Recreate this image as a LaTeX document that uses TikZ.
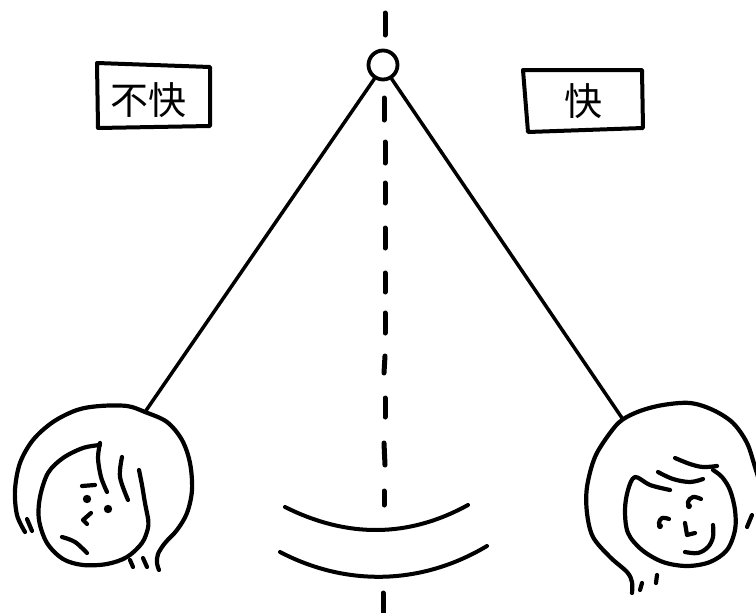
\documentclass[tikz,border=0pt]{standalone}
\usepackage{fontspec}
\newfontfamily\cjk{Noto Sans CJK JP}
\begin{document}
\begin{tikzpicture}[x=1pt,y=-1pt,line cap=round,line join=round,
  ink/.style={draw=black,line width=4pt},
  thin ink/.style={draw=black,line width=3.5pt},
  dashpart/.style={draw=black,line width=5pt},
  feature/.style={draw=black,line width=4.2pt},
  dotfeat/.style={fill=black},
  label text/.style={font=\cjk\fontsize{38}{38}\selectfont,inner sep=0pt},
  pivot/.style={circle,draw=black,line width=3.8pt,minimum size=29pt,inner sep=0pt,fill=white}]
\useasboundingbox (0,0) rectangle (756,613);
\fill[white] (0,0) rectangle (756,613);

% vertical dashed axis
\foreach \ya/\yb/\xa/\xb in {13/35/385/385, 98/120/384/384, 142/163/385/385, 183/203/385/385,
  228/248/385/385, 273/292/385/385, 313/333/385/385, 356/373/385/384, 398/417/385/385,
  443/465/384/385, 491/505/384/384, 593/613/383/383}
  \draw[dashpart] (\xa,\ya) -- (\xb,\yb);

% pivot and the two strings
\node[pivot] (pivot) at (383,65) {};
\coordinate (lhang) at (145,412);
\coordinate (rhang) at (622,418);
\draw[thin ink] (pivot.-122) -- (lhang);
\draw[thin ink] (pivot.-58) -- (rhang);

% labels
\draw[ink] (97,63) -- (210,67) -- (210,126) -- (98,128) -- cycle;
\node[label text] (unpleasant) at (148,100) {不快};
\draw[ink] (523,70) -- (642,70) -- (643,128) -- (528,132) -- cycle;
\node[label text] (pleasant) at (583,101) {快};

% swing arcs
\draw[ink] (285,507) .. controls (347,538) and (408,538) .. (468,505);
\draw[ink] (280,552) .. controls (345,586) and (420,586) .. (487,546);

% ---- left head (frowning) ----
\draw[feature] plot[smooth,tension=0.55] coordinates {(25,532) (17,515) (15,490) (20,463) (33,440)
  (53,422) (77,410) (100,406) (127,406) (145,412) (167,422) (182,440) (190,463) (192,490)
  (187,513) (177,530) (165,543) (158,554) (157,563) (159,570)};
\draw[feature] (27,519) -- (32,531);
\draw[feature] plot[smooth,tension=0.55] coordinates {(100,445) (83,448) (63,458) (48,473) (40,497)
  (39,520) (47,543) (63,559) (83,565) (107,564) (127,557) (142,543) (148,528) (148,518)};
\draw[feature] plot[smooth,tension=0.55] coordinates {(148,518) (145,503) (142,485) (139,470)};
\draw[feature] plot[smooth,tension=0.55] coordinates {(100,443) (98,458) (101,477) (107,492)};
\draw[feature] plot[smooth,tension=0.55] coordinates {(122,457) (120,477) (128,500)};
\draw[feature] (82,486) -- (95,485);
\fill[dotfeat] (87,499) circle (4.2pt);
\fill[dotfeat] (108,509) circle (4.2pt);
\draw[feature] (91,513) -- (83,520) -- (87,524);
\draw[feature] plot[smooth,tension=0.6] coordinates {(62,537) (75,542) (87,553)};
\draw[feature] (130,560) -- (133,567);
\draw[feature] (143,558) -- (147,567);

% ---- right head (smiling) ----
\draw[feature] plot[smooth,tension=0.55] coordinates {(632,593) (632,582) (627,572) (610,557)
  (593,537) (587,513) (587,487) (595,457) (610,433) (622,420) (640,411) (663,405) (690,403)
  (713,410) (733,423) (747,443) (755,467) (762,490)};
\draw[feature] (752,515) -- (747,527);
\draw[feature] plot[smooth,tension=0.55] coordinates {(670,490) (650,485) (635,477) (628,490)
  (625,510) (628,533) (642,550) (663,562) (687,566) (710,562) (727,550) (735,530) (735,510)
  (730,490) (722,477) (713,470)};
\draw[feature] plot[smooth,tension=0.6] coordinates {(658,472) (673,479) (690,482) (703,479)};
\draw[feature] plot[smooth,tension=0.6] coordinates {(675,458) (690,464) (703,467) (717,466)};
\draw[feature] plot[smooth,tension=0.7] coordinates {(701,499) (693,497) (688,502) (689,507)};
\fill[dotfeat] (689,506) circle (3pt);
\draw[feature] plot[smooth,tension=0.7] coordinates {(669,519) (662,518) (659,523) (660,527)};
\fill[dotfeat] (660,526) circle (3pt);
\draw[feature] (685,523) -- (687,535) -- (695,533);
\draw[feature] plot[smooth,tension=0.6] coordinates {(685,552) (698,553) (708,547) (713,537) (713,525)};
\draw[feature] (642,583) -- (640,590);
\draw[feature] (657,575) -- (656,583);
\end{tikzpicture}
\end{document}
